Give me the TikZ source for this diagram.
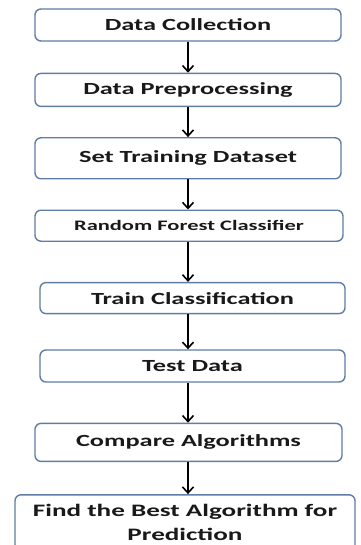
\documentclass[tikz,border=0pt]{standalone}
\usepackage{fontspec}
\newfontfamily\boxfont{Carlito}[FakeStretch=1.55]
\usetikzlibrary{arrows.meta,positioning}
\definecolor{boxline}{RGB}{95,125,165}
\definecolor{boxtext}{RGB}{25,25,25}

\begin{document}
\begin{tikzpicture}[
      x=1pt, y=1pt,
      node distance=30pt,
      stepbox/.style={rectangle, draw=boxline, line width=1.4pt, rounded corners=6pt, minimum width=306pt, minimum height=32pt, align=center, inner sep=2pt, text=boxtext, font=\boxfont\bfseries\fontsize{17}{25}\selectfont},
      arr/.style={-{Straight Barb[length=6pt,width=11pt]}, line width=1.6pt},
    ]
    \useasboundingbox (0,0) rectangle (360,-545);
    \node[stepbox] (collect) at (188,-25) {Data Collection};
    \node[stepbox, minimum height=33pt, below=31pt of collect] (prep) {Data Preprocessing};
    \node[stepbox, minimum height=41pt, below=30pt of prep] (trainset) {Set Training Dataset};
    \node[stepbox, minimum width=308pt, minimum height=31pt, below=30pt of trainset, xshift=1pt, font=\boxfont\bfseries\fontsize{14.5}{18}\selectfont] (rf) {Random Forest Classifier};
    \node[stepbox, minimum width=305pt, minimum height=31pt, below=40pt of rf, xshift=3.5pt] (trainclf) {Train Classification};
    \node[stepbox, minimum width=305pt, below=35pt of trainclf] (test) {Test Data};
    \node[stepbox, minimum width=307pt, minimum height=38pt, below=40pt of test, xshift=-4pt] (compare) {Compare Algorithms};
    \node[stepbox, minimum width=340pt, minimum height=56pt, text depth=0pt, below=32pt of compare, xshift=-3.5pt, font=\boxfont\bfseries\fontsize{17.5}{24}\selectfont] (best) {Find the Best Algorithm for\\Prediction};
    \draw[arr] (collect.south) -- (prep.north -| collect);
    \draw[arr] (prep.south -| collect) -- (trainset.north -| collect);
    \draw[arr] (trainset.south -| collect) -- (rf.north -| collect);
    \draw[arr] (rf.south -| collect) -- (trainclf.north -| collect);
    \draw[arr] (trainclf.south -| collect) -- (test.north -| collect);
    \draw[arr] (test.south -| collect) -- (compare.north -| collect);
    \draw[arr] (compare.south -| collect) -- (best.north -| collect);
  \end{tikzpicture}
\end{document}
